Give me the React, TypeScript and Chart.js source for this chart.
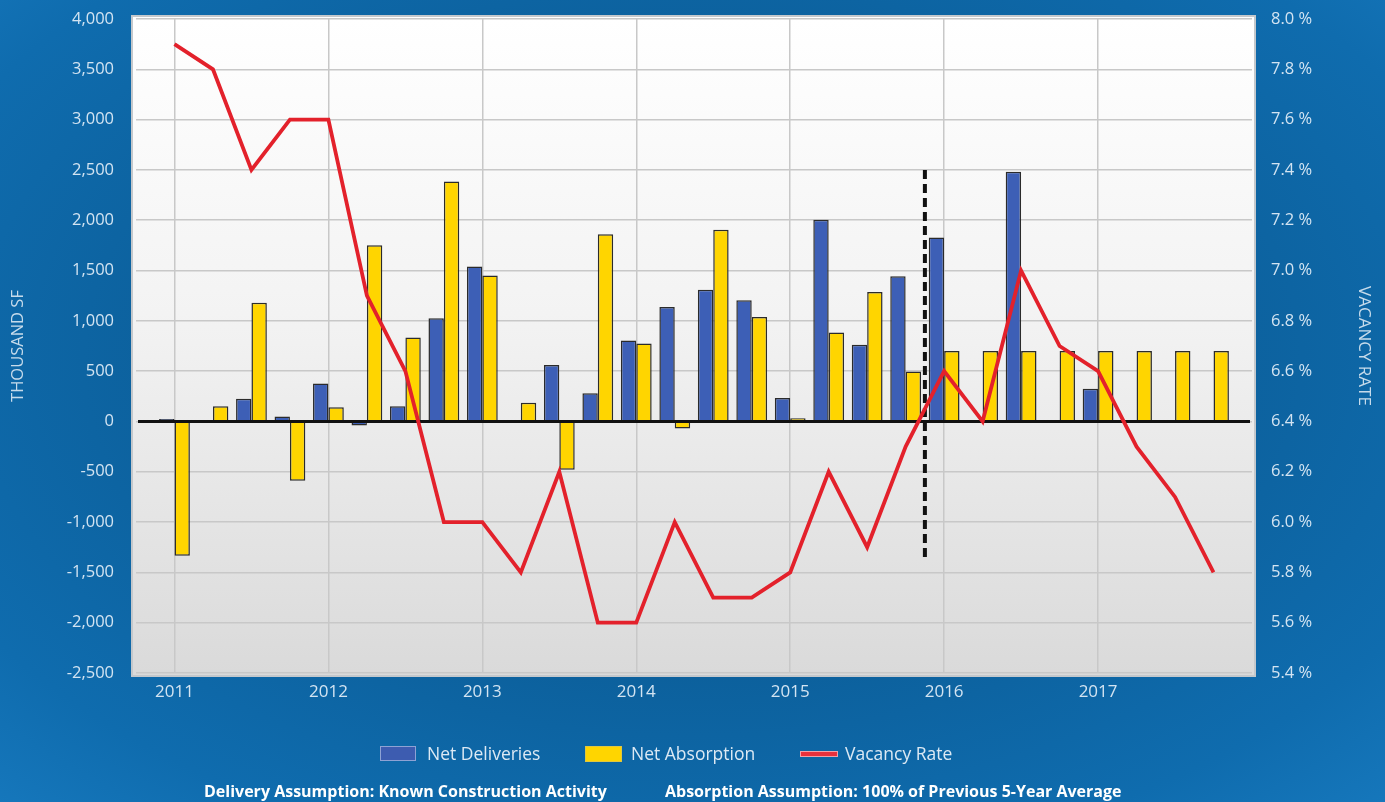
import React, { useEffect, useRef } from "react";
import { Chart, registerables } from "chart.js";

Chart.register(...registerables);

// ---------- data ----------
const years = ["2011", "2012", "2013", "2014", "2015", "2016", "2017"];

const quarterLabels = [
  "2011 Q1", "2011 Q2", "2011 Q3", "2011 Q4",
  "2012 Q1", "2012 Q2", "2012 Q3", "2012 Q4",
  "2013 Q1", "2013 Q2", "2013 Q3", "2013 Q4",
  "2014 Q1", "2014 Q2", "2014 Q3", "2014 Q4",
  "2015 Q1", "2015 Q2", "2015 Q3", "2015 Q4",
  "2016 Q1", "2016 Q2", "2016 Q3", "2016 Q4",
  "2017 Q1", "2017 Q2", "2017 Q3", "2017 Q4",
];

// thousand SF
const netDeliveries: (number | null)[] = [
  25, null, 225, 50,
  378, -40, 152, 1025,
  1540, null, 560, 280,
  805, 1137, 1310, 1205,
  234, 2004, 762, 1444,
  1829, null, 2483, null,
  325, null, null, null,
];

// thousand SF
const netAbsorption: number[] = [
  -1335, 152, 1180, -590,
  142, 1752, 835, 2385,
  1451, 187, -479, 1860,
  776, -70, 1906, 1039,
  31, 885, 1287, 497,
  700, 700, 700, 700,
  700, 700, 700, 700,
];

// percent
const vacancyRate: number[] = [
  7.9, 7.8, 7.4, 7.6,
  7.6, 6.9, 6.6, 6.0,
  6.0, 5.8, 6.2, 5.6,
  5.6, 6.0, 5.7, 5.7,
  5.8, 6.2, 5.9, 6.3,
  6.6, 6.4, 7.0, 6.7,
  6.6, 6.3, 6.1, 5.8,
];

const sfMin = -2500;
const sfMax = 4000;
const sfStep = 500;
const rateMin = 5.4;
const rateMax = 8.0;
const rateStep = 0.2;

// forecast divider (between 2015 Q4 and 2016 Q1)
const forecastDividerX = 19.5;
const forecastDividerTop = 2500;
const forecastDividerBottom = -1350;

// ---------- styles ----------
const TICK_COLOR = "#d3e4f2";
const TITLE_COLOR = "#c6dbeb";
const FONT = "'Open Sans', 'DejaVu Sans', sans-serif";

const plotBackground = {
  id: "plotBackground",
  beforeDraw(chart: any) {
    const { ctx, chartArea: a } = chart;
    const g = ctx.createLinearGradient(0, a.top, 0, a.bottom);
    g.addColorStop(0, "#ffffff");
    g.addColorStop(0.45, "#f3f3f3");
    g.addColorStop(1, "#dadada");
    ctx.save();
    ctx.fillStyle = g;
    ctx.fillRect(a.left - 4, a.top - 3, a.right - a.left + 7, a.bottom - a.top + 6);
    ctx.strokeStyle = "#c4c8cc";
    ctx.lineWidth = 2;
    ctx.strokeRect(a.left - 4, a.top - 3, a.right - a.left + 7, a.bottom - a.top + 6);
    ctx.restore();
  },
};

const overlayLines = {
  id: "overlayLines",
  beforeDatasetDraw(chart: any, args: any) {
    if (args.index !== 2) return;
    const { ctx, chartArea: a, scales } = chart;
    const y0 = scales.y.getPixelForValue(0);
    ctx.save();
    // zero line
    ctx.strokeStyle = "#111111";
    ctx.lineWidth = 3;
    ctx.beginPath();
    ctx.moveTo(a.left + 2, y0);
    ctx.lineTo(a.right - 2, y0);
    ctx.stroke();
    // forecast divider
    const x = scales.x.getPixelForValue(forecastDividerX);
    ctx.setLineDash([9, 5]);
    ctx.lineWidth = 4;
    ctx.beginPath();
    ctx.moveTo(x, scales.y.getPixelForValue(forecastDividerTop));
    ctx.lineTo(x, scales.y.getPixelForValue(forecastDividerBottom));
    ctx.stroke();
    ctx.restore();
  },
};

const fitVertical = (width: number) => (s: any) => {
  s.width = width;
  s.paddingTop = 0;
  s.paddingBottom = 0;
};

function ChartCanvas() {
  const ref = useRef<HTMLCanvasElement | null>(null);

  useEffect(() => {
    if (!ref.current) return;
    const toPoints = (arr: (number | null)[]) =>
      arr.map((v, i) => ({ x: i, y: v }));

    const chart = new Chart(ref.current, {
      type: "bar",
      data: {
        datasets: [
          {
            label: "Net Deliveries",
            data: toPoints(netDeliveries) as any,
            backgroundColor: "#3d5fb6",
            borderColor: "#2b2b2b",
            borderWidth: 1.5,
            categoryPercentage: 0.8,
            barPercentage: 1.0,
            order: 1,
            yAxisID: "y",
          },
          {
            label: "Net Absorption",
            data: toPoints(netAbsorption) as any,
            backgroundColor: "#ffd500",
            borderColor: "#2b2b2b",
            borderWidth: 1.5,
            categoryPercentage: 0.8,
            barPercentage: 1.0,
            order: 1,
            yAxisID: "y",
          },
          {
            type: "line",
            label: "Vacancy Rate",
            data: toPoints(vacancyRate) as any,
            borderColor: "#e3212b",
            borderWidth: 3.8,
            pointRadius: 0,
            tension: 0,
            order: 0,
            yAxisID: "y1",
          } as any,
        ],
      },
      options: {
        responsive: false,
        animation: false,
        layout: { padding: { top: 19, left: 0, right: 0, bottom: 0 } },
        plugins: {
          legend: { display: false },
          tooltip: { enabled: false },
        },
        scales: {
          x: {
            type: "linear",
            offset: false,
            min: -1,
            max: quarterLabels.length,
            afterBuildTicks: (s: any) => {
              s.ticks = years.map((_, i) => ({ value: i * 4 }));
            },
            afterFit: (s: any) => {
              s.height = 129;
              s.paddingLeft = 0;
              s.paddingRight = 0;
            },
            grid: { color: "#c8c8c8", lineWidth: 1.5, drawTicks: false, offset: false },
            border: { display: false },
            ticks: {
              color: TICK_COLOR,
              font: { family: FONT, size: 17 },
              padding: 9,
              autoSkip: false,
              maxRotation: 0,
              callback: (v: any) => years[Math.round(Number(v) / 4)] ?? "",
            },
          },
          y: {
            type: "linear",
            position: "left",
            min: sfMin,
            max: sfMax,
            afterFit: fitVertical(136),
            grid: { color: "#c8c8c8", lineWidth: 1.5, drawTicks: false },
            border: { display: false },
            ticks: {
              stepSize: sfStep,
              color: TICK_COLOR,
              font: { family: FONT, size: 16.5 },
              padding: 22,
              callback: (v: any) => Number(v).toLocaleString("en-US"),
            },
            title: {
              display: true,
              text: "THOUSAND SF",
              color: TITLE_COLOR,
              font: { family: FONT, size: 16.5 },
              padding: { top: 8, bottom: 0 },
            },
          },
          y1: {
            type: "linear",
            position: "right",
            min: rateMin,
            max: rateMax,
            afterFit: fitVertical(133),
            grid: { display: false, drawTicks: false },
            border: { display: false },
            ticks: {
              stepSize: rateStep,
              color: TICK_COLOR,
              font: { family: FONT, size: 16.5 },
              padding: 19,
              callback: (v: any) => Number(v).toFixed(1) + " %",
            },
            title: {
              display: true,
              text: "VACANCY RATE",
              color: TITLE_COLOR,
              font: { family: FONT, size: 17 },
              padding: { top: 11, bottom: 0 },
            },
          },
        },
      },
      plugins: [plotBackground, overlayLines],
    });
    return () => chart.destroy();
  }, []);

  return <canvas ref={ref} width={1385} height={802} style={{ display: "block" }} />;
}

const legendText: React.CSSProperties = {
  position: "absolute",
  top: 742,
  fontFamily: FONT,
  fontSize: 17.5,
  color: "#dce9f4",
  lineHeight: "22px",
  whiteSpace: "nowrap",
};

export default function App() {
  return (
    <div
      style={{
        position: "fixed",
        left: 0,
        top: 0,
        width: 1385,
        height: 802,
        overflow: "hidden",
        background:
          "radial-gradient(ellipse 80% 85% at 50% 45%, #0a5a93 0%, #0c609c 45%, #0f6cae 75%, #1a7ec4 100%)",
      }}
    >
      <ChartCanvas />
      {/* legend */}
      <div
        style={{
          position: "absolute",
          left: 380,
          top: 746,
          width: 34,
          height: 13,
          background: "#3d5cb0",
          border: "1.5px solid #8ea2d4",
        }}
      />
      <div style={{ ...legendText, left: 427 }}>Net Deliveries</div>
      <div
        style={{
          position: "absolute",
          left: 585,
          top: 746,
          width: 35,
          height: 14,
          background: "#ffd500",
          border: "1px solid #e0c640",
        }}
      />
      <div style={{ ...legendText, left: 631 }}>Net Absorption</div>
      <div
        style={{
          position: "absolute",
          left: 800,
          top: 751,
          width: 36,
          height: 4,
          background: "#e8303c",
          border: "1px solid #f2a0a8",
        }}
      />
      <div style={{ ...legendText, left: 845 }}>Vacancy Rate</div>
      {/* footnote */}
      <div
        style={{
          position: "absolute",
          left: 204,
          top: 780,
          fontFamily: FONT,
          fontWeight: 700,
          fontSize: 16,
          color: "#ffffff",
          lineHeight: "22px",
          whiteSpace: "nowrap",
        }}
      >
        Delivery Assumption: Known Construction Activity
      </div>
      <div
        style={{
          position: "absolute",
          left: 665,
          top: 780,
          fontFamily: FONT,
          fontWeight: 700,
          fontSize: 16,
          color: "#ffffff",
          lineHeight: "22px",
          whiteSpace: "nowrap",
        }}
      >
        Absorption Assumption: 100% of Previous 5-Year Average
      </div>
    </div>
  );
}
